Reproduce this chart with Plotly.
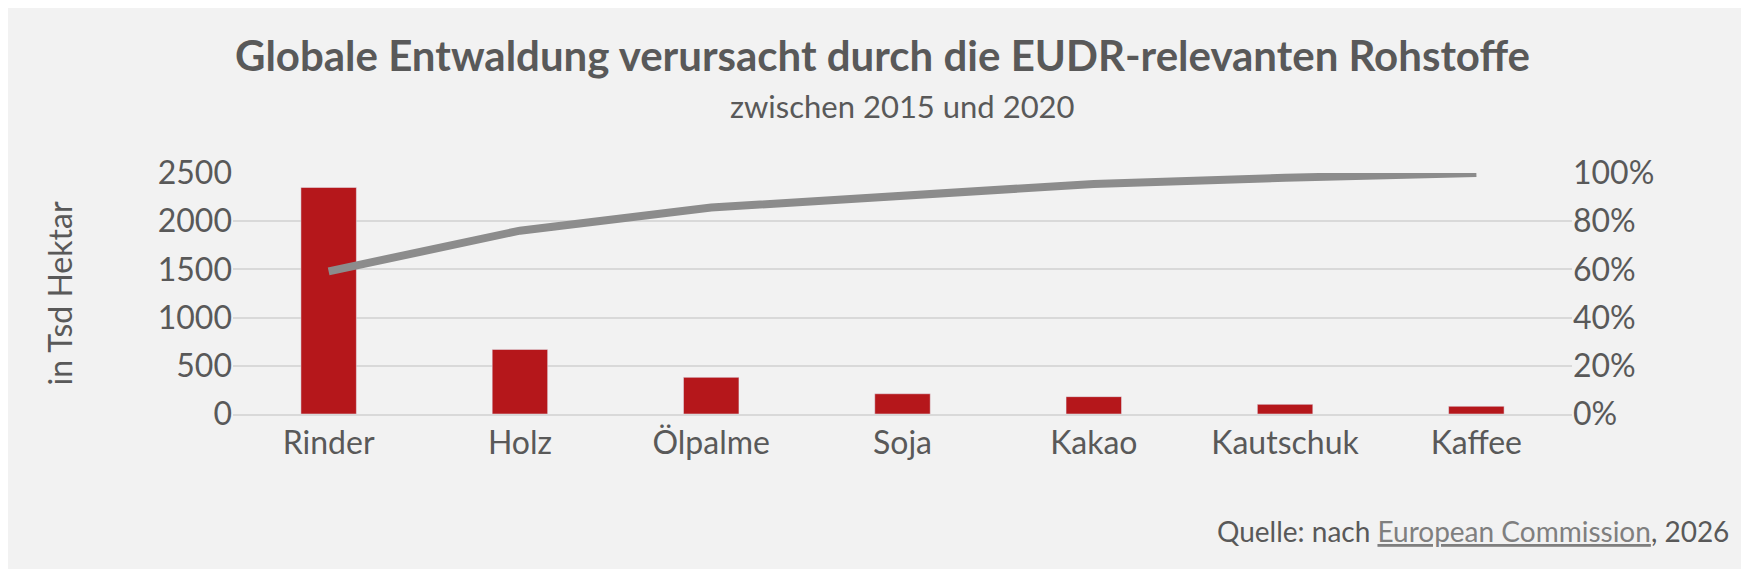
import plotly.graph_objects as go
import numpy as np

categories = ["Rinder", "Holz", "Ölpalme", "Soja", "Kakao", "Kautschuk", "Kaffee"]
values = [2350, 670, 380, 210, 180, 100, 80]
cum_share = list(np.cumsum(values) / sum(values) * 100)

fig = go.Figure()
fig.add_trace(go.Bar(x=categories, y=values, marker_color="#b5171b", width=0.29, showlegend=False))
fig.add_trace(go.Scatter(x=categories, y=cum_share, yaxis="y2", mode="lines",
                         line=dict(color="#8c8c8c", width=8), showlegend=False))

fig.update_layout(
    width=1749, height=569,
    paper_bgcolor="#f2f2f2", plot_bgcolor="#f2f2f2",
    font=dict(family="Lato", color="#595959", size=32),
    margin=dict(l=225, r=185, t=165, b=163),
    title=dict(text="<b>Globale Entwaldung verursacht durch die EUDR-relevanten Rohstoffe</b>",
               x=0.5, xanchor="center", y=0.915, yanchor="middle", font=dict(size=42, color="#595959")),
    xaxis=dict(showline=True, linecolor="#d9d9d9", linewidth=2, ticks="", tickfont=dict(size=32)),
    yaxis=dict(range=[0, 2500], dtick=500, gridcolor="#d9d9d9", gridwidth=2, zeroline=False,
               title=dict(text="in Tsd Hektar", font=dict(size=32), standoff=75)),
    yaxis2=dict(range=[0, 100], dtick=20, overlaying="y", side="right", ticksuffix="%",
                showgrid=False, zeroline=False),
)
fig.add_annotation(text="zwischen 2015 und 2020", xref="paper", yref="paper", x=0.5,
                   y=1.0 + 67 / 241, xanchor="center", yanchor="middle", showarrow=False,
                   font=dict(size=31, color="#595959"))
fig.add_annotation(text='Quelle: nach <a href="https://commission.europa.eu" style="color:#7f7f7f">'
                        '<u>European Commission</u></a>, 2026',
                   xref="paper", yref="paper", x=1.119, y=-0.485, xanchor="right",
                   yanchor="middle", showarrow=False, font=dict(size=28, color="#595959"))

fig.write_html("out.html")
